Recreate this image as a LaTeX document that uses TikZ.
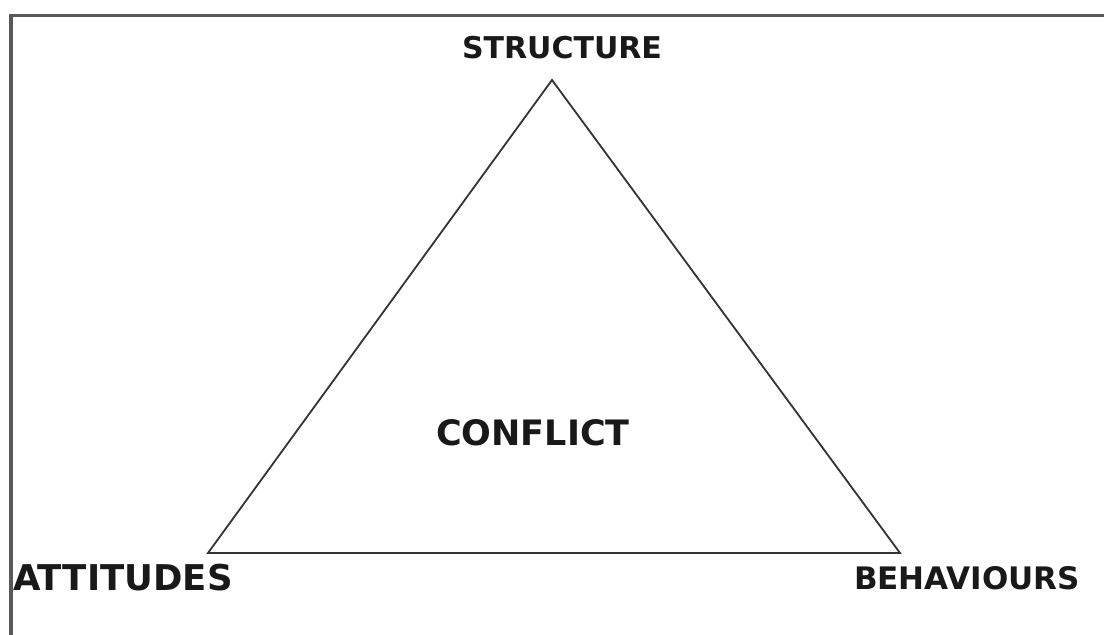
\documentclass[tikz,border=0pt]{standalone}
\usepackage{fontspec}
\setmainfont{DejaVu Sans}
\begin{document}
\begin{tikzpicture}[x=1pt,y=-1pt,
  lbl/.style={font=\bfseries, text=black!90, inner sep=0pt},
  frameline/.style={draw=black!65, line width=3.5pt},
  tri/.style={draw=black!80, line width=1.8pt, line join=miter}]
\useasboundingbox (0,0) rectangle (1104,635);
\fill[white] (0,0) rectangle (1104,635);
% frame (top and left only)
\coordinate (ftl) at (11,15.5);
\coordinate (ftr) at (1104,15.5);
\coordinate (fbl) at (11,635);
\draw[frameline] (fbl) -- (ftl) -- (ftr);
% triangle
\coordinate (top) at (552,80);
\coordinate (bl) at (208,553);
\coordinate (br) at (900,553);
\draw[tri] (top) -- (bl) -- (br) -- cycle;
% labels
\node[lbl, font=\fontsize{30}{36}\selectfont\bfseries] (structure) at (562,48) {STRUCTURE};
\node[lbl, font=\fontsize{35.5}{42}\selectfont\bfseries] (attitudes) at (123,578) {ATTITUDES};
\node[lbl, font=\fontsize{31}{37}\selectfont\bfseries] (behaviours) at (967,578) {BEHAVIOURS};
\node[lbl, font=\fontsize{35}{42}\selectfont\bfseries] (conflict) at (533,433) {CONFLICT};
\end{tikzpicture}
\end{document}
